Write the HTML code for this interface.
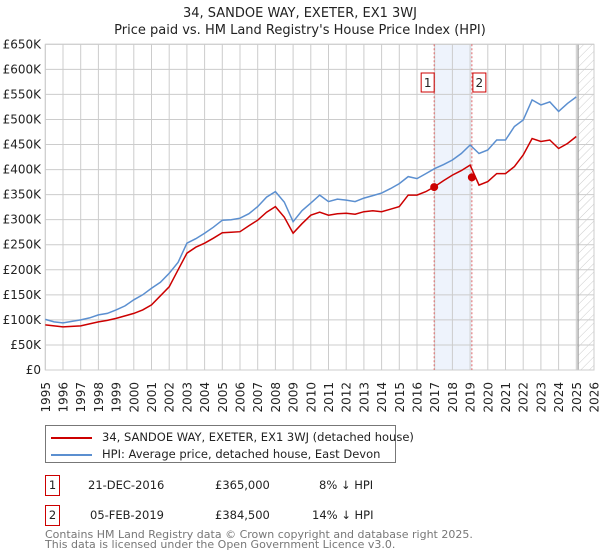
<!DOCTYPE html>
<html><head><meta charset="utf-8"><style>
body{margin:0;background:#fff;font-family:"DejaVu Sans","Liberation Sans",sans-serif;}
#wrap{position:relative;width:600px;height:560px;overflow:hidden}
</style></head><body><div id="wrap">
<svg id="chart" width="600" height="560" style="position:absolute;left:0;top:0" font-family="DejaVu Sans, Liberation Sans, sans-serif">
<defs><pattern id="hatch" width="6" height="6" patternUnits="userSpaceOnUse" patternTransform="rotate(45)"><line x1="0" y1="0" x2="0" y2="6" stroke="#ccc" stroke-width="1"/></pattern></defs>
<text x="300" y="17" text-anchor="middle" font-size="13" fill="#222">34, SANDOE WAY, EXETER, EX1 3WJ</text>
<text x="300" y="34" text-anchor="middle" font-size="13" fill="#222">Price paid vs. HM Land Registry's House Price Index (HPI)</text>
<g id="grid"></g><g id="marks"></g><g id="axes"></g>
</svg>
<div style="position:absolute;left:45px;top:425px;width:349px;height:36px;border:1px solid #777;font-size:11.5px;color:#222">
<div style="position:absolute;left:5px;top:4px;white-space:nowrap"><span style="display:inline-block;width:41px;height:2px;background:#cc0000;vertical-align:middle;margin-right:10px"></span>34, SANDOE WAY, EXETER, EX1 3WJ (detached house)</div>
<div style="position:absolute;left:5px;top:21px;white-space:nowrap"><span style="display:inline-block;width:41px;height:2px;background:#5b8fd0;vertical-align:middle;margin-right:10px"></span>HPI: Average price, detached house, East Devon</div>
</div>
<div style="font-size:11.5px;color:#222">
<div style="position:absolute;left:45px;top:475px;width:13px;height:19px;border:1px solid #cc0000;text-align:center;line-height:19px">1</div>
<div style="position:absolute;left:88px;top:478px">21-DEC-2016</div>
<div style="position:absolute;left:215px;top:478px">£365,000</div>
<div style="position:absolute;left:319px;top:478px">8% ↓ HPI</div>
<div style="position:absolute;left:45px;top:505px;width:13px;height:19px;border:1px solid #cc0000;text-align:center;line-height:19px">2</div>
<div style="position:absolute;left:90px;top:508px">05-FEB-2019</div>
<div style="position:absolute;left:215px;top:508px">£384,500</div>
<div style="position:absolute;left:312px;top:508px">14% ↓ HPI</div>
</div>
<div style="position:absolute;left:45px;top:530px;font-size:11px;line-height:10px;color:#777;white-space:nowrap">Contains HM Land Registry data © Crown copyright and database right 2025.<br>This data is licensed under the Open Government Licence v3.0.</div>
</div>
<script>
const years=[1995,1995.5,1996,1996.5,1997,1997.5,1998,1998.5,1999,1999.5,2000,2000.5,2001,2001.5,2002,2002.5,2003,2003.5,2004,2004.5,2005,2005.5,2006,2006.5,2007,2007.5,2008,2008.5,2009,2009.5,2010,2010.5,2011,2011.5,2012,2012.5,2013,2013.5,2014,2014.5,2015,2015.5,2016,2016.5,2017,2017.5,2018,2018.5,2019,2019.5,2020,2020.5,2021,2021.5,2022,2022.5,2023,2023.5,2024,2024.5,2025];
const hpi=[101,96,94,97,100,104,110,113,120,128,140,150,163,175,193,215,253,262,273,285,299,300,303,312,326,345,356,335,296,318,333,349,336,341,339,336,343,348,353,362,372,386,382,392,402,410,419,432,449,432,439,459,459,486,499,539,529,535,516,532,545];
const prop=[90,88,86,87,88,92,96,99,103,108,113,120,130,148,166,200,233,245,253,263,274,275,276,288,299,315,326,305,273,292,309,315,309,312,313,311,316,318,316,321,326,349,349,356,366,378,389,398,409,369,376,392,392,406,429,462,456,459,442,452,466];
const yTicks=[0,50,100,150,200,250,300,350,400,450,500,550,600,650];
const sales=[[2016.97,365],[2019.1,384.5]];
const X0=45.3,X1=594,Y0=370,Y1=44.3;
const x=y=>X0+(y-1995)/(2026-1995)*(X1-X0);
const yv=v=>Y0-v/650*(Y0-Y1);
const NS='http://www.w3.org/2000/svg';
function mk(p,t,a){const e=document.createElementNS(NS,t);for(const k in a)e.setAttribute(k,a[k]);p.appendChild(e);return e;}
const grid=document.getElementById('grid'),marks=document.getElementById('marks'),axes=document.getElementById('axes');
const shade=mk(grid,'rect',{x:x(sales[0][0]),y:Y1,width:x(sales[1][0])-x(sales[0][0]),height:Y0-Y1,fill:'#eef3fc'});


for(let yr=1995;yr<=2026;yr++){const l=mk(grid,'line',{x1:x(yr),x2:x(yr),y1:Y1,y2:Y0,stroke:'#ccc','stroke-width':1});


const tx=x(yr)+4.5;
const t=mk(axes,'text',{x:tx,y:382,'text-anchor':'end','font-size':12,fill:'#222',transform:'rotate(-90 '+tx+' 382)'});t.textContent=yr;

}
yTicks.forEach(v=>{const l=mk(grid,'line',{x1:X0,x2:X1,y1:yv(v),y2:yv(v),stroke:'#ccc','stroke-width':1});


const t=mk(axes,'text',{x:41,y:yv(v)+4,'text-anchor':'end','font-size':12,fill:'#222'});t.textContent=v===0?'£0':'£'+v+'K';

});
const hx=x(2025.1);
const hatch=mk(grid,'rect',{x:hx,y:Y1,width:X1-hx,height:Y0-Y1,fill:'url(#hatch)'});


mk(grid,'line',{x1:hx,x2:hx,y1:Y1,y2:Y0,stroke:'#999','stroke-width':1.2});
const frame=mk(grid,'rect',{x:X0,y:Y1,width:X1-X0,height:Y0-Y1,fill:'none',stroke:'#ccc'});


sales.forEach((s,i)=>{const l=mk(marks,'line',{x1:x(s[0]),x2:x(s[0]),y1:Y1,y2:Y0,stroke:'#e06666','stroke-dasharray':'2,2','stroke-width':1});

});
function path(vals,col,name){const d=vals.map((v,i)=>(i?'L':'M')+x(years[i]).toFixed(1)+','+yv(v).toFixed(1)).join('');
const p=mk(marks,'path',{d:d,fill:'none',stroke:col,'stroke-width':1.5});

}
path(hpi,'#5b8fd0','hpi-line');
path(prop,'#cc0000','property-line');
sales.forEach((s,i)=>{const c=mk(marks,'circle',{cx:x(s[0]),cy:yv(s[1]),r:4,fill:'#cc0000'});


const bx=x(s[0])-(i?-1:13);
const r=mk(marks,'rect',{x:bx,y:73,width:13,height:19,fill:'#fff',stroke:'#cc0000'});


const t=mk(marks,'text',{x:bx+6.5,y:87,'text-anchor':'middle','font-size':12,fill:'#222'});t.textContent=i+1;

});
</script></body></html>
